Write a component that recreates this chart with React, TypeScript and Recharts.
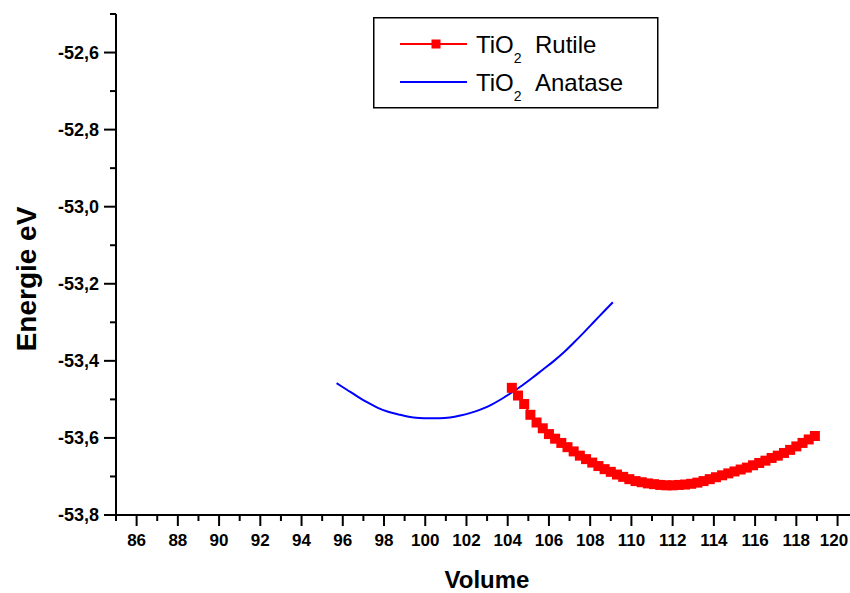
import React from "react";
import { LineChart, Line, XAxis, YAxis, Legend } from "recharts";

// TiO2 anatase: volume vs total energy (eV)
const anataseVolume = [
  95.7, 96.2, 96.7, 97.2, 97.7, 98.2, 98.7, 99.2, 99.7, 100.2, 100.7, 101.2, 101.7, 102.2,
  102.7, 103.2, 103.7, 104.2, 104.7, 105.2, 105.7, 106.2, 106.7, 107.2, 107.7, 108.2, 108.7, 109.1,
];
const anataseEnergy = [
  -53.458, -53.475, -53.492, -53.508, -53.522, -53.532, -53.539, -53.545, -53.548, -53.549,
  -53.549, -53.547, -53.542, -53.535, -53.526, -53.514, -53.499, -53.482, -53.464, -53.444,
  -53.423, -53.402, -53.379, -53.353, -53.326, -53.298, -53.27, -53.248,
];

// TiO2 rutile
const rutileVolume = [
  104.2, 104.5, 104.8, 105.1, 105.4, 105.7, 106.0, 106.3, 106.6, 106.9, 107.2, 107.5, 107.8,
  108.1, 108.4, 108.7, 109.0, 109.3, 109.6, 109.9, 110.2, 110.5, 110.8, 111.1, 111.4, 111.7,
  112.0, 112.3, 112.6, 112.9, 113.2, 113.5, 113.8, 114.1, 114.4, 114.7, 115.0, 115.3, 115.6,
  115.9, 116.2, 116.5, 116.8, 117.1, 117.4, 117.7, 118.0, 118.3, 118.6, 118.9,
];
const rutileEnergy = [
  -53.47, -53.49, -53.512, -53.54, -53.56, -53.575, -53.59, -53.602, -53.613, -53.624, -53.635,
  -53.646, -53.655, -53.664, -53.673, -53.681, -53.688, -53.695, -53.701, -53.707, -53.712,
  -53.715, -53.718, -53.72, -53.722, -53.723, -53.723, -53.722, -53.721, -53.719, -53.716,
  -53.712, -53.707, -53.702, -53.697, -53.692, -53.687, -53.682, -53.677, -53.671, -53.665,
  -53.659, -53.652, -53.646, -53.639, -53.631, -53.622, -53.613, -53.604, -53.595,
];

const volumeTicks = [
  85, 86, 87, 88, 89, 90, 91, 92, 93, 94, 95, 96, 97, 98, 99, 100, 101, 102, 103, 104, 105, 106,
  107, 108, 109, 110, 111, 112, 113, 114, 115, 116, 117, 118, 119, 120,
];
const energyTicks = [
  -53.8, -53.7, -53.6, -53.5, -53.4, -53.3, -53.2, -53.1, -53.0, -52.9, -52.8, -52.7, -52.6, -52.5,
];

const anataseData = anataseVolume.map((x, i) => ({ x, y: anataseEnergy[i] }));
const rutileData = rutileVolume.map((x, i) => ({ x, y: rutileEnergy[i] }));

const FONT = '"Liberation Sans", Arial, sans-serif';

function VolumeTick({ x, y, payload }: any) {
  const v = payload.value;
  const major = v % 2 === 0;
  // keep the last label inside the page edge
  const lx = Math.min(x, 849 - 15);
  return (
    <g>
      <line x1={x} x2={x} y1={y} y2={y + (major ? 11 : 6)} stroke="#000" strokeWidth={2} />
      {major && (
        <text x={lx} y={y + 31} textAnchor="middle" fontSize={17} fontWeight="bold" fill="#000" fontFamily={FONT}>
          {v}
        </text>
      )}
    </g>
  );
}

function EnergyTick({ x, y, payload }: any) {
  const v = payload.value;
  const major = Math.round(v * 10) % 2 === 0;
  return (
    <g>
      <line x1={x - (major ? 12 : 6)} x2={x} y1={y} y2={y} stroke="#000" strokeWidth={2} />
      {major && (
        <text x={x - 17} y={y + 6} textAnchor="end" fontSize={18} fontWeight="bold" fill="#000" fontFamily={FONT}>
          {v.toFixed(1).replace(".", ",")}
        </text>
      )}
    </g>
  );
}

function LegendBox() {
  const txt = { fontSize: 24, fill: "#000", fontFamily: FONT } as const;
  return (
    <svg width={286} height={92} style={{ display: "block" }}>
      <rect x={0.75} y={0.75} width={284} height={90} fill="#fff" stroke="#000" strokeWidth={1.5} />
      <line x1={27} x2={94} y1={27} y2={27} stroke="#ff0000" strokeWidth={2} />
      <rect x={58.5} y={22.5} width={9} height={9} fill="#ff0000" />
      <text x={103} y={36} {...txt}>
        TiO
        <tspan dy={10} fontSize={14}>2</tspan>
        <tspan x={162} dy={-10}>Rutile</tspan>
      </text>
      <line x1={27} x2={94} y1={65} y2={65} stroke="#0000ff" strokeWidth={2} />
      <text x={103} y={74} {...txt}>
        TiO
        <tspan dy={10} fontSize={14}>2</tspan>
        <tspan x={162} dy={-10}>Anatase</tspan>
      </text>
    </svg>
  );
}

const renderSquare = (props: any) => {
  const { cx, cy, index } = props;
  return <rect key={`sq-${index}`} x={cx - 5} y={cy - 5} width={10} height={10} fill="#ff0000" />;
};

export default function App() {
  return (
    <div
      style={{
        position: "absolute",
        left: 0,
        top: 0,
        width: 850,
        height: 593,
        overflow: "hidden",
        background: "#fff",
        fontFamily: FONT,
      }}
    >
      <LineChart width={852} height={593} margin={{ top: 14, right: 0, bottom: 0, left: 0 }}>
        <XAxis
          type="number"
          dataKey="x"
          domain={[85, 120.7]}
          ticks={volumeTicks}
          interval={0}
          allowDataOverflow
          height={78}
          stroke="#000"
          strokeWidth={2}
          tickSize={0}
          tickMargin={0}
          tickLine={false}
          tick={<VolumeTick />}
          label={{
            content: () => (
              <text x={487} y={588} textAnchor="middle" fontSize={24} fontWeight="bold" fill="#000" fontFamily={FONT}>
                Volume
              </text>
            ),
          }}
        />
        <YAxis
          type="number"
          domain={[-53.8, -52.5]}
          ticks={energyTicks}
          interval={0}
          allowDataOverflow
          width={116}
          stroke="#000"
          strokeWidth={2}
          tickSize={0}
          tickMargin={0}
          tickLine={false}
          tick={<EnergyTick />}
          label={{
            content: () => (
              <text
                transform="translate(36,279) rotate(-90)"
                textAnchor="middle"
                fontSize={28}
                fontWeight="bold"
                fill="#000"
                fontFamily={FONT}
              >
                Energie eV
              </text>
            ),
          }}
        />
        <Legend
          layout="vertical"
          align="center"
          verticalAlign="middle"
          wrapperStyle={{ top: 17, left: 373, width: 286, height: 92 }}
          content={() => <LegendBox />}
        />
        <Line
          data={anataseData}
          dataKey="y"
          name="TiO2 Anatase"
          type="monotone"
          stroke="#0000ff"
          strokeWidth={2}
          dot={false}
          isAnimationActive={false}
        />
        <Line
          data={rutileData}
          dataKey="y"
          name="TiO2 Rutile"
          type="linear"
          stroke="#ff0000"
          strokeWidth={2}
          dot={renderSquare}
          isAnimationActive={false}
        />
      </LineChart>
    </div>
  );
}
